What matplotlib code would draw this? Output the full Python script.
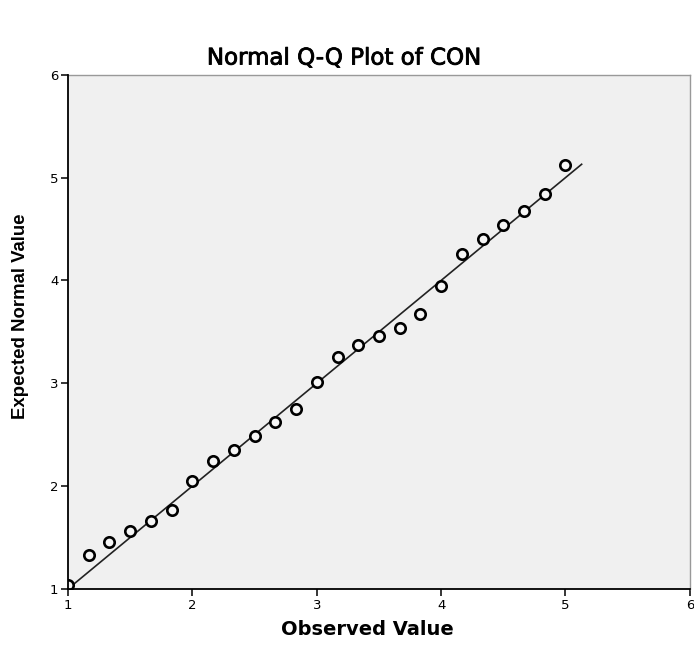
import matplotlib
matplotlib.use('Agg')
import matplotlib.pyplot as plt
import matplotlib.patheffects as pe

observed = [1.0, 1.167, 1.333, 1.5, 1.667, 1.833, 2.0, 2.167, 2.333, 2.5,
            2.667, 2.833, 3.0, 3.167, 3.333, 3.5, 3.667, 3.833, 4.0, 4.167,
            4.333, 4.5, 4.667, 4.833, 5.0]
expected = [1.04, 1.33, 1.46, 1.56, 1.66, 1.77, 2.05, 2.24, 2.35, 2.49,
            2.62, 2.75, 3.01, 3.26, 3.37, 3.46, 3.54, 3.67, 3.95, 4.26,
            4.40, 4.54, 4.68, 4.84, 5.12]
ref_line = [1.0, 5.13]
ticks = [1, 2, 3, 4, 5, 6]

plt.rcParams['font.family'] = ['DejaVu Sans']

fig = plt.figure(figsize=(6.94, 6.45), dpi=100)
ax = fig.add_axes([0.098, 0.087, 0.896, 0.797])
ax.set_facecolor('#f0f0f0')

ax.plot(ref_line, ref_line, color='#222222', lw=1.2, zorder=2)
ax.plot(observed, expected, 'o', ms=7.5, mfc='#f6f6f6', mec='black', mew=1.9,
        zorder=3)

ax.set_xlim(1, 6)
ax.set_ylim(1, 6)
ax.set_xticks(ticks)
ax.set_yticks(ticks)
ax.tick_params(direction='out', length=5, width=1.1, labelsize=9.5, pad=2)

for s in ['left', 'bottom']:
    ax.spines[s].set_color('black')
    ax.spines[s].set_linewidth(1.3)
    ax.spines[s].set_zorder(5)
for s in ['top', 'right']:
    ax.spines[s].set_color('#999999')
    ax.spines[s].set_linewidth(1.0)

fig.text(0.495, 0.91, 'Normal Q-Q Plot of CON', ha='center', va='center', fontsize=16.5,
         path_effects=[pe.withStroke(linewidth=0.6, foreground='black')])
fig.text(0.529, 0.01, 'Observed Value', ha='center', va='bottom', fontsize=14, fontweight='bold')
fig.text(0.03, 0.51, 'Expected Normal Value', ha='center', va='center', rotation=90,
         fontsize=13.4, fontweight='bold', family='Liberation Sans')

plt.savefig('out.png')
